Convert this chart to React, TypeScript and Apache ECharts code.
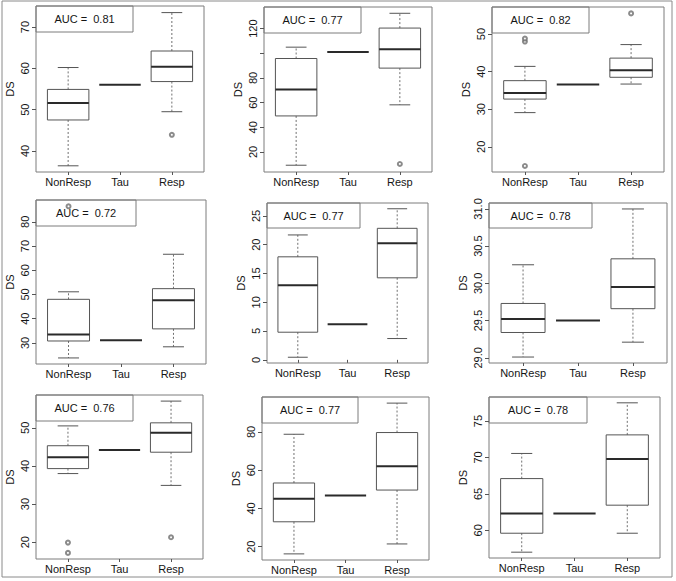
import React, { useEffect, useRef } from "react";
import * as echarts from "echarts";

// ---------- data ----------
const categories = ["NonResp", "Tau", "Resp"];
const aucValues = [0.81, 0.77, 0.82, 0.72, 0.77, 0.78, 0.76, 0.77, 0.78];
const tauValues = [56.0, 101.0, 36.6, 31.1, 6.2, 29.5, 44.2, 46.8, 62.3];

// [lower whisker, Q1, median, Q3, upper whisker]
const nonResp1 = [36.4, 47.5, 51.6, 54.9, 60.2];
const resp1 = [49.5, 56.8, 60.4, 64.2, 73.5];
const outliers1 = [[3, 43.9]];
const ticks1 = [40, 50, 60, 70];
const range1 = [34.9, 75.1];

const nonResp2 = [9.2, 49.2, 70.6, 95.8, 105.0];
const resp2 = [58.2, 88.0, 103.4, 120.5, 132.5];
const outliers2 = [[3, 10.2]];
const ticks2 = [20, 40, 60, 80, 100, 120];
const labels2 = [20, 40, 60, 80, 120];
const range2 = [3.7, 137.6];

const nonResp3 = [29.1, 32.7, 34.3, 37.6, 41.4];
const resp3 = [36.7, 38.5, 40.4, 43.6, 47.2];
const outliers3 = [[1, 48.0], [1, 48.8], [1, 14.9], [3, 55.5]];
const ticks3 = [20, 30, 40, 50];
const range3 = [13.3, 57.2];

const nonResp4 = [23.8, 30.8, 33.5, 48.0, 51.1];
const resp4 = [28.4, 35.8, 47.6, 52.4, 66.6];
const outliers4 = [[1, 86.4]];
const ticks4 = [30, 40, 50, 60, 70, 80];
const range4 = [21.3, 89.0];

const nonResp5 = [0.45, 4.8, 12.95, 17.9, 21.7];
const resp5 = [3.7, 14.25, 20.25, 22.85, 26.25];
const outliers5: number[][] = [];
const ticks5 = [0, 5, 10, 15, 20, 25];
const range5 = [-0.55, 27.25];

const nonResp6 = [29.01, 29.34, 29.52, 29.73, 30.25];
const resp6 = [29.21, 29.66, 29.95, 30.33, 31.0];
const outliers6: number[][] = [];
const ticks6 = [29.0, 29.5, 30.0, 30.5, 31.0];
const range6 = [28.93, 31.08];

const nonResp7 = [38.0, 39.3, 42.3, 45.3, 50.5];
const resp7 = [34.9, 43.6, 48.7, 51.3, 57.0];
const outliers7 = [[1, 19.9], [1, 17.2], [3, 21.3]];
const ticks7 = [20, 30, 40, 50];
const range7 = [15.6, 58.6];

const nonResp8 = [16.2, 33.0, 45.1, 53.3, 78.8];
const resp8 = [21.4, 49.6, 62.1, 79.7, 95.1];
const outliers8: number[][] = [];
const ticks8 = [20, 40, 60, 80];
const range8 = [13.0, 98.3];

const nonResp9 = [57.0, 59.6, 62.3, 67.1, 70.55];
const resp9 = [59.6, 63.45, 69.8, 73.1, 77.5];
const outliers9: number[][] = [];
const ticks9 = [60, 65, 70, 75];
const range9 = [56.2, 78.3];

const nonRespAll = [nonResp1, nonResp2, nonResp3, nonResp4, nonResp5, nonResp6, nonResp7, nonResp8, nonResp9];
const respAll = [resp1, resp2, resp3, resp4, resp5, resp6, resp7, resp8, resp9];
const outliersAll = [outliers1, outliers2, outliers3, outliers4, outliers5, outliers6, outliers7, outliers8, outliers9];
const ticksAll = [ticks1, ticks2, ticks3, ticks4, ticks5, ticks6, ticks7, ticks8, ticks9];
const labelsAll = [ticks1, labels2, ticks3, ticks4, ticks5, ticks6, ticks7, ticks8, ticks9];
const rangesAll = [range1, range2, range3, range4, range5, range6, range7, range8, range9];

// ---------- layout (px) ----------
const layouts = [
  { left: 36, top: 6, width: 168, height: 166, legendW: 97, legendH: 26 },
  { left: 264, top: 7, width: 168, height: 165, legendW: 97, legendH: 26 },
  { left: 492, top: 7, width: 172, height: 165, legendW: 97, legendH: 26 },
  { left: 36, top: 200, width: 170, height: 164, legendW: 100, legendH: 26 },
  { left: 267, top: 203, width: 161, height: 160, legendW: 93, legendH: 25 },
  { left: 489, top: 203, width: 178, height: 160, legendW: 103, legendH: 25 },
  { left: 36, top: 395, width: 167, height: 164, legendW: 97, legendH: 26 },
  { left: 262, top: 397, width: 167, height: 163, legendW: 96, legendH: 26 },
  { left: 489, top: 397, width: 171, height: 161, legendW: 98, legendH: 26 },
];

const FONT = "'Liberation Sans', Arial, Helvetica, sans-serif";
const TEXT = "#151515";
const FRAME = "#7d7d7d";
const BOX = "#555555";
const MED = "#2a2a2a";
const WHISK = "#707070";
const POINT = "#6e6e6e";

function renderBox(params: any, api: any) {
  const x = api.value(0);
  const lo = api.value(1);
  const q1 = api.value(2);
  const md = api.value(3);
  const q3 = api.value(4);
  const hi = api.value(5);
  const hw = 0.4;
  const cw = 0.2;
  const c = (a: number, b: number) => api.coord([a, b]);
  const pLo = c(x, lo);
  const pQ1 = c(x, q1);
  const pQ3 = c(x, q3);
  const pHi = c(x, hi);
  const bl = c(x - hw, q3);
  const br = c(x + hw, q1);
  const ml = c(x - hw, md);
  const mr = c(x + hw, md);
  const capL1 = c(x - cw, lo);
  const capR1 = c(x + cw, lo);
  const capL2 = c(x - cw, hi);
  const capR2 = c(x + cw, hi);
  const children: any[] = [];
  if (hi > q3) {
    children.push({
      type: "line",
      shape: { x1: pQ3[0], y1: pQ3[1], x2: pHi[0], y2: pHi[1] },
      style: { stroke: WHISK, lineWidth: 1, lineDash: [2, 2] },
    });
    children.push({
      type: "line",
      shape: { x1: capL2[0], y1: capL2[1], x2: capR2[0], y2: capR2[1] },
      style: { stroke: BOX, lineWidth: 1 },
    });
  }
  if (lo < q1) {
    children.push({
      type: "line",
      shape: { x1: pQ1[0], y1: pQ1[1], x2: pLo[0], y2: pLo[1] },
      style: { stroke: WHISK, lineWidth: 1, lineDash: [2, 2] },
    });
    children.push({
      type: "line",
      shape: { x1: capL1[0], y1: capL1[1], x2: capR1[0], y2: capR1[1] },
      style: { stroke: BOX, lineWidth: 1 },
    });
  }
  if (q3 > q1) {
    children.push({
      type: "rect",
      shape: { x: bl[0], y: bl[1], width: br[0] - bl[0], height: br[1] - bl[1] },
      style: { stroke: BOX, lineWidth: 1, fill: "none" },
    });
  }
  children.push({
    type: "line",
    shape: { x1: ml[0], y1: ml[1], x2: mr[0], y2: mr[1] },
    style: { stroke: MED, lineWidth: 2 },
  });
  return { type: "group", children };
}

export default function App() {
  const ref = useRef<HTMLDivElement>(null);
  useEffect(() => {
    if (!ref.current) return;
    const chart = echarts.init(ref.current, null, { renderer: "svg" });
    const grid: any[] = [];
    const xAxis: any[] = [];
    const yAxis: any[] = [];
    const series: any[] = [];
    const graphic: any[] = [
      {
        type: "rect",
        shape: { x: 2, y: 1, width: 670, height: 576 },
        style: { fill: "none", stroke: "#8a8a8a", lineWidth: 1 },
        silent: true,
      },
    ];
    layouts.forEach((L, i) => {
      const range = rangesAll[i];
      grid.push({
        left: L.left,
        top: L.top,
        width: L.width,
        height: L.height,
        show: true,
        borderColor: FRAME,
        borderWidth: 1,
        backgroundColor: "transparent",
      });
      xAxis.push({
        type: "value",
        gridIndex: i,
        min: 0.38,
        max: 3.62,
        axisLine: { show: false },
        splitLine: { show: false },
        axisTick: { show: true, customValues: [1, 2, 3], length: 3, lineStyle: { color: BOX } },
        axisLabel: {
          customValues: [1, 2, 3],
          formatter: (v: number) => categories[Math.round(v) - 1],
          margin: 4,
          fontSize: 11,
          color: TEXT,
          fontFamily: FONT,
        },
      });
      yAxis.push({
        type: "value",
        gridIndex: i,
        min: range[0],
        max: range[1],
        name: "DS",
        nameLocation: "middle",
        nameRotate: 90,
        nameGap: 21,
        nameTextStyle: { fontSize: 11, color: TEXT, fontFamily: FONT },
        axisLine: { show: false },
        splitLine: { show: false },
        axisTick: { show: true, customValues: ticksAll[i], length: 4, lineStyle: { color: BOX } },
        axisLabel: {
          customValues: labelsAll[i],
          rotate: 90,
          margin: 6,
          fontSize: 11,
          color: TEXT,
          fontFamily: FONT,
          formatter: (v: number) => (i === 5 ? v.toFixed(1) : String(v)),
        },
      });
      const t = tauValues[i];
      series.push({
        type: "custom",
        xAxisIndex: i,
        yAxisIndex: i,
        renderItem: renderBox,
        encode: { x: 0, y: [1, 2, 3, 4, 5] },
        data: [
          [1, ...nonRespAll[i]],
          [2, t, t, t, t, t],
          [3, ...respAll[i]],
        ],
        silent: true,
      });
      series.push({
        type: "scatter",
        xAxisIndex: i,
        yAxisIndex: i,
        symbol: "emptyCircle",
        symbolSize: 4,
        itemStyle: { color: POINT, borderWidth: 0.8 },
        data: outliersAll[i],
        silent: true,
      });
      graphic.push({
        type: "group",
        x: L.left,
        y: L.top,
        silent: true,
        children: [
          {
            type: "rect",
            shape: { x: 0, y: 0, width: L.legendW, height: L.legendH },
            style: { fill: "none", stroke: FRAME, lineWidth: 1 },
          },
          {
            type: "text",
            x: L.legendW / 2,
            y: L.legendH / 2,
            style: {
              text: "AUC =\u00a0\u00a0" + aucValues[i].toFixed(2),
              fontSize: 11,
              fontFamily: FONT,
              fill: TEXT,
              align: "center",
              verticalAlign: "middle",
            },
          },
        ],
      });
    });
    chart.setOption({
      animation: false,
      backgroundColor: "#ffffff",
      grid,
      xAxis,
      yAxis,
      series,
      graphic,
    });
    return () => chart.dispose();
  }, []);
  return (
    <div
      ref={ref}
      style={{ position: "fixed", left: 0, top: 0, width: 676, height: 581 }}
    />
  );
}
